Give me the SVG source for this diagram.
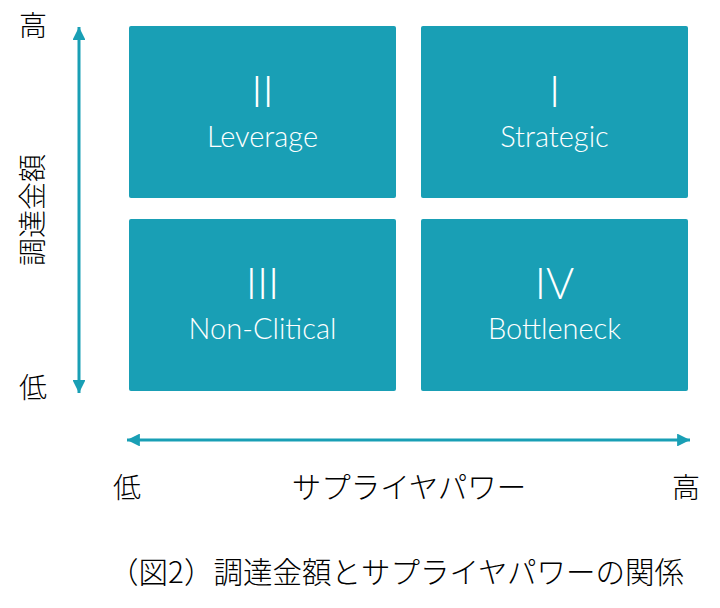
<svg xmlns="http://www.w3.org/2000/svg" width="720" height="608" viewBox="0 0 720 608">
<style>
.box{fill:#199fb5}
.num{font-family:Lato,"Liberation Sans",sans-serif;font-weight:300;font-size:43px;fill:#ffffff;text-anchor:middle}
.lbl{font-family:Lato,"Liberation Sans",sans-serif;font-weight:300;font-size:29px;fill:#ffffff;text-anchor:middle}
.jp{font-family:"Noto Sans CJK JP Light","Noto Sans CJK JP",sans-serif;font-weight:300;font-size:28px;fill:#000000;text-anchor:middle}
.jpl{font-size:29.5px}
.ax{stroke:#199fb5;stroke-width:3;fill:none}
</style>
<defs>
<marker id="ah" viewBox="0 0 10 10" refX="10" refY="5" markerWidth="4.3" markerHeight="4.3" orient="auto-start-reverse" markerUnits="strokeWidth">
<path d="M0,0 L10,5 L0,10 z" fill="#199fb5"/>
</marker>
</defs>
<rect width="720" height="608" fill="#ffffff"/>
<g id="q2"><rect class="box" x="129" y="26" width="267" height="172" rx="2"/><text class="num" x="262.5" y="107">II</text><text class="lbl" x="262.5" y="147">Leverage</text></g>
<g id="q1"><rect class="box" x="421" y="26" width="267" height="172" rx="2"/><text class="num" x="554.5" y="107">I</text><text class="lbl" x="554.5" y="147">Strategic</text></g>
<g id="q3"><rect class="box" x="129" y="219" width="267" height="172" rx="2"/><text class="num" x="262.5" y="299">III</text><text class="lbl" x="262.5" y="339">Non-Clitical</text></g>
<g id="q4"><rect class="box" x="421" y="219" width="267" height="172" rx="2"/><text class="num" x="554.5" y="299">IV</text><text class="lbl" x="554.5" y="339">Bottleneck</text></g>
<g id="connectors">
<line class="ax" x1="79" y1="27" x2="79" y2="393" marker-start="url(#ah)" marker-end="url(#ah)"/>
<line class="ax" x1="127" y1="440" x2="690" y2="440" marker-start="url(#ah)" marker-end="url(#ah)"/>
</g>
<g id="labels">
<text class="jp" x="33" y="36">高</text>
<text class="jp" x="0" y="0" transform="translate(43,210) rotate(-90)">調達金額</text>
<text class="jp" x="33" y="398">低</text>
<text class="jp" x="127" y="498">低</text>
<text class="jp jpl" x="409" y="498">サプライヤパワー</text>
<text class="jp" x="686" y="498">高</text>
<text class="jp jpl" x="396.5" y="583">（図2）調達金額とサプライヤパワーの関係</text>
</g>
</svg>
